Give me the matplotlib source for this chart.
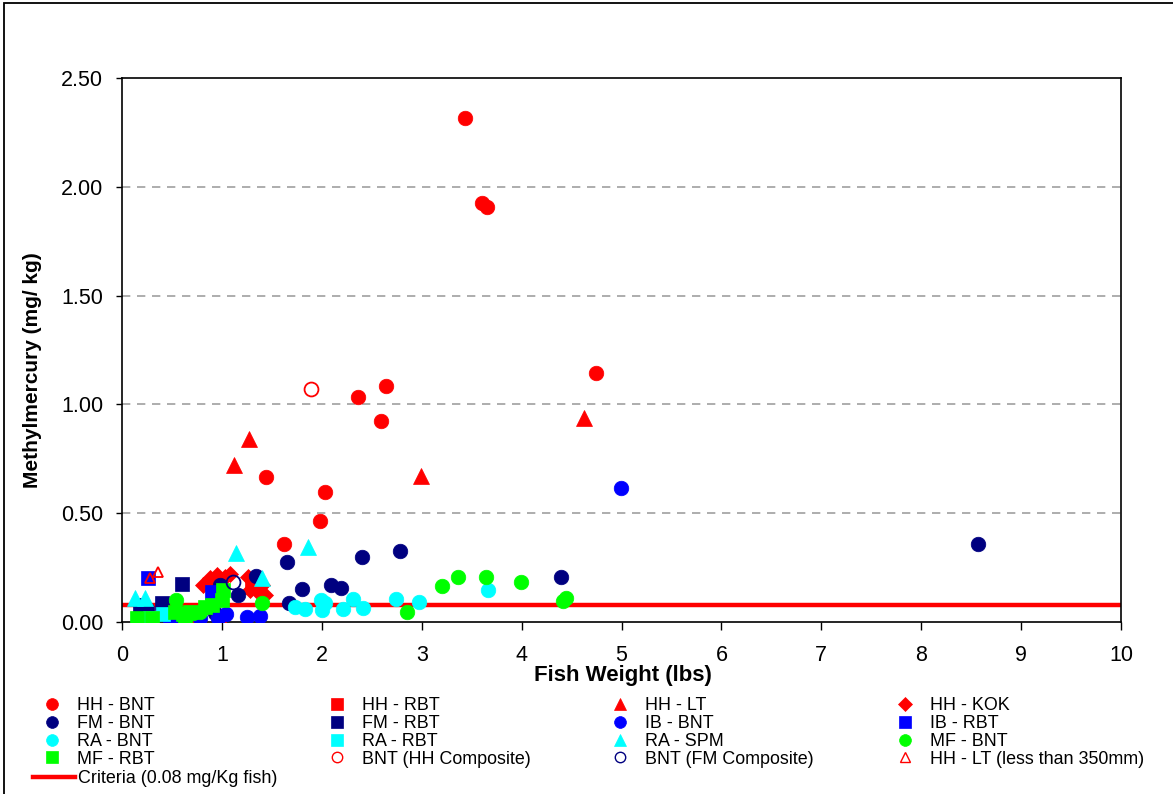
import matplotlib
matplotlib.use("Agg")
import matplotlib.pyplot as plt
from matplotlib.lines import Line2D
from matplotlib.patches import Rectangle

plt.rcParams['font.family'] = ['Liberation Sans', 'DejaVu Sans']

# ---- data ----
hh_bnt_x = [3.43, 3.60, 3.65, 4.74, 2.64, 2.36, 2.59, 1.44, 2.03, 1.98, 1.62, 0.77]
hh_bnt_y = [2.316, 1.926, 1.907, 1.144, 1.085, 1.034, 0.924, 0.666, 0.597, 0.464, 0.358, 0.01]
hh_rbt_x = [1.30]
hh_rbt_y = [0.16]
hh_lt_x = [1.12, 1.27, 2.99, 4.62, 1.00]
hh_lt_y = [0.722, 0.841, 0.671, 0.937, 0.0]
hh_kok_x = [0.81, 0.88, 0.95, 1.03, 1.08, 0.91, 1.26, 1.33, 1.40, 1.36, 1.28, 1.43]
hh_kok_y = [0.17, 0.20, 0.216, 0.207, 0.22, 0.147, 0.207, 0.193, 0.17, 0.138, 0.147, 0.124]
fm_bnt_x = [8.57, 4.39, 2.78, 2.40, 1.65, 2.09, 2.19, 1.80, 1.34, 1.67, 1.16, 0.98, 0.25, 0.45, 0.93]
fm_bnt_y = [0.358, 0.207, 0.326, 0.299, 0.276, 0.170, 0.156, 0.152, 0.211, 0.087, 0.124, 0.170, 0.06, 0.03, 0.04]
fm_rbt_x = [0.60, 0.40, 0.18]
fm_rbt_y = [0.175, 0.087, 0.08]
ib_bnt_x = [4.99, 0.96, 1.04, 1.25, 1.38, 0.78, 0.48]
ib_bnt_y = [0.616, 0.018, 0.037, 0.023, 0.028, 0.02, 0.01]
ib_rbt_x = [0.26, 0.90]
ib_rbt_y = [0.202, 0.138]
ra_bnt_x = [1.83, 1.99, 2.03, 2.00, 2.21, 2.31, 2.41, 2.74, 2.97, 3.66, 1.73]
ra_bnt_y = [0.06, 0.10, 0.087, 0.055, 0.06, 0.106, 0.064, 0.106, 0.092, 0.147, 0.069]
ra_rbt_x = [0.41, 0.28]
ra_rbt_y = [0.037, 0.018]
ra_spm_x = [1.14, 1.86, 1.40, 0.13, 0.23]
ra_spm_y = [0.317, 0.345, 0.202, 0.11, 0.11]
mf_bnt_x = [3.20, 3.36, 3.64, 3.99, 4.44, 4.41, 2.85, 1.40, 0.54, 0.78, 0.71]
mf_bnt_y = [0.165, 0.207, 0.207, 0.184, 0.11, 0.097, 0.046, 0.087, 0.101, 0.046, 0.041]
mf_rbt_x = [0.15, 0.30, 0.53, 0.61, 0.83, 1.00, 1.01, 0.90, 0.68, 0.63]
mf_rbt_y = [0.018, 0.018, 0.046, 0.037, 0.069, 0.101, 0.147, 0.078, 0.046, 0.02]
hh_comp_x = [1.89]
hh_comp_y = [1.071]
fm_comp_x = [1.11]
fm_comp_y = [0.184]
hh_lt_small_x = [0.36, 0.28]
hh_lt_small_y = [0.23, 0.202]
criteria_x = [0, 10]
criteria_y = [0.08, 0.08]

x_ticks = [0, 1, 2, 3, 4, 5, 6, 7, 8, 9, 10]
y_ticks = [0.0, 0.5, 1.0, 1.5, 2.0, 2.5]

RED = '#FF0000'; NAVY = '#000080'; BLUE = '#0000FF'; CYAN = '#00FFFF'; GREEN = '#00FF00'

series = [
    ("HH - BNT", hh_bnt_x, hh_bnt_y, 'o', RED, True, 10.5),
    ("HH - RBT", hh_rbt_x, hh_rbt_y, 's', RED, True, 10),
    ("HH - LT", hh_lt_x, hh_lt_y, '^', RED, True, 11),
    ("HH - KOK", hh_kok_x, hh_kok_y, 'D', RED, True, 8),
    ("FM - BNT", fm_bnt_x, fm_bnt_y, 'o', NAVY, True, 10.5),
    ("FM - RBT", fm_rbt_x, fm_rbt_y, 's', NAVY, True, 10),
    ("IB - BNT", ib_bnt_x, ib_bnt_y, 'o', BLUE, True, 10.5),
    ("IB - RBT", ib_rbt_x, ib_rbt_y, 's', BLUE, True, 10),
    ("RA - BNT", ra_bnt_x, ra_bnt_y, 'o', CYAN, True, 10.5),
    ("RA - RBT", ra_rbt_x, ra_rbt_y, 's', CYAN, True, 10),
    ("RA - SPM", ra_spm_x, ra_spm_y, '^', CYAN, True, 11),
    ("MF - BNT", mf_bnt_x, mf_bnt_y, 'o', GREEN, True, 10.5),
    ("MF - RBT", mf_rbt_x, mf_rbt_y, 's', GREEN, True, 10),
    ("BNT (HH Composite)", hh_comp_x, hh_comp_y, 'o', RED, False, 10),
    ("BNT (FM Composite)", fm_comp_x, fm_comp_y, 'o', NAVY, False, 10),
    ("HH - LT (less than 350mm)", hh_lt_small_x, hh_lt_small_y, '^', RED, False, 7),
]

W, H = 1173, 794
fig = plt.figure(figsize=(W / 100, H / 100), dpi=100)
fig.patch.set_facecolor('white')
ax = fig.add_axes([122 / W, 1 - 622 / H, (1121 - 122) / W, (622 - 78) / H])

ax.plot(criteria_x, criteria_y, color=RED, lw=3.2, zorder=2, solid_capstyle='butt')

handles = []
for i, (lab, xs, ys, m, c, filled, ms) in enumerate(series):
    ax.plot(xs, ys, linestyle='none', marker=m, markersize=ms,
            markerfacecolor=c if filled else 'none', markeredgecolor=c,
            markeredgewidth=1.3 if not filled else 0.5, zorder=3 + i * 0.01)
    lms = {'o': 8.5, 's': 8, '^': 9, 'D': 7}[m]
    if not filled:
        lms = 7 if m == '^' else 7.5
    handles.append(Line2D([], [], linestyle='none', marker=m, markersize=lms,
                          markerfacecolor=c if filled else 'none', markeredgecolor=c,
                          markeredgewidth=1.0 if not filled else 0.5, label=lab))

ax.set_xlim(0, 10)
ax.set_ylim(0, 2.5)
ax.set_xticks(x_ticks)
ax.set_xticklabels([str(t) for t in x_ticks])
ax.set_yticks(y_ticks)
ax.set_yticklabels([f"{t:.2f}" for t in y_ticks])
ax.tick_params(axis='x', direction='out', length=5.5, width=1, pad=11, labelsize=15.5)
ax.tick_params(axis='y', direction='out', length=4.5, width=1, pad=9, labelsize=15.5)
for yv in y_ticks[1:-1]:
    ax.axhline(yv, color='#A0A0A0', lw=1.2, ls=(0, (5, 4)), zorder=1)
for s in ax.spines.values():
    s.set_color('black')
    s.set_linewidth(1.2)

fig.text(623 / W, 1 - 681 / H, "Fish Weight (lbs)", ha='center', va='baseline',
         fontsize=16, fontweight='bold')
fig.text(33 / W, 1 - 370 / H, "Methylmercury (mg/ kg)", ha='center', va='center',
         rotation=90, fontsize=15, fontweight='bold')

# legends: four columns
col_x0 = [43, 328, 611, 896]
fs = 12.9
for ci in range(4):
    hs = [handles[r * 4 + ci] for r in range(4)]
    leg = fig.legend(handles=hs, loc='upper left',
                     bbox_to_anchor=(col_x0[ci] / W, 1 - 697 / H),
                     frameon=False, fontsize=fs, borderpad=0, borderaxespad=0,
                     handlelength=1.0, handletextpad=0.9, labelspacing=0.05,
                     numpoints=1)
crit_h = Line2D([], [], color=RED, lw=3.2, label="Criteria (0.08 mg/Kg fish)")
fig.legend(handles=[crit_h], loc='upper left', bbox_to_anchor=(33 / W, 1 - 770 / H),
           frameon=False, fontsize=fs, borderpad=0, borderaxespad=0,
           handlelength=2.35, handletextpad=0.15)

# figure frame
fig.add_artist(Rectangle((4 / W, -0.02), 1.05, 1 - 3 / H + 0.02, transform=fig.transFigure,
                         fill=False, edgecolor='black', lw=1.3))

fig.savefig("out.png", dpi=100, facecolor='white')
